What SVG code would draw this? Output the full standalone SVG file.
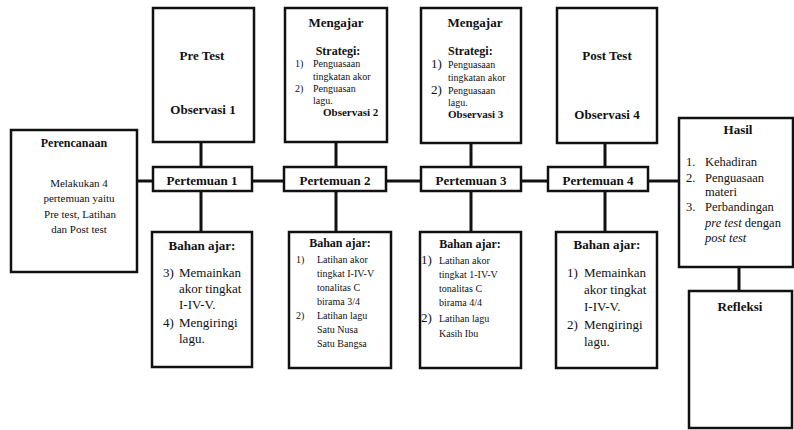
<svg xmlns="http://www.w3.org/2000/svg" width="794" height="430" viewBox="0 0 794 430">
<style>
.box{fill:#fff;stroke:#111;stroke-width:2.5}
.conn{stroke:#111;stroke-width:3;fill:none}
text{font-family:"Liberation Serif","Times New Roman",serif;fill:#111}
.b{font-weight:bold}
.c{text-anchor:middle}
.h13{font-size:13px}
.h12{font-size:12px}
.t11{font-size:11px}
.t10{font-size:10px}
.t13{font-size:13px}
.t12{font-size:12.5px}
.i{font-style:italic}
</style>
<rect width="794" height="430" fill="#fff"/>
<g id="connectors">
<line class="conn" x1="137" y1="181" x2="153" y2="181"/>
<line class="conn" x1="252" y1="181" x2="284" y2="181"/>
<line class="conn" x1="386" y1="181" x2="421" y2="181"/>
<line class="conn" x1="521" y1="181" x2="548" y2="181"/>
<line class="conn" x1="648" y1="181" x2="679" y2="181"/>
<line class="conn" x1="201" y1="142" x2="201" y2="167"/>
<line class="conn" x1="201" y1="191" x2="201" y2="232"/>
<line class="conn" x1="336" y1="142" x2="336" y2="167"/>
<line class="conn" x1="336" y1="191" x2="336" y2="232"/>
<line class="conn" x1="471" y1="143" x2="471" y2="167"/>
<line class="conn" x1="471" y1="191" x2="471" y2="232"/>
<line class="conn" x1="605" y1="143" x2="605" y2="167"/>
<line class="conn" x1="605" y1="191" x2="605" y2="232"/>
<line class="conn" x1="739" y1="267" x2="739" y2="291"/>
</g>
<g id="perencanaan">
<rect class="box" x="11" y="130" width="126" height="142"/>
<text class="b h12 c" x="74" y="147">Perencanaan</text>
<text class="t11 c" x="79" y="187">Melakukan 4</text>
<text class="t11 c" x="79" y="202">pertemuan yaitu</text>
<text class="t11 c" x="80" y="218">Pre test, Latihan</text>
<text class="t11 c" x="79" y="233">dan Post test</text>
</g>
<g id="pretest">
<rect class="box" x="153" y="8" width="101" height="134"/>
<text class="b h13 c" x="202" y="60">Pre Test</text>
<text class="b h13 c" x="203" y="114">Observasi 1</text>
</g>
<g id="mengajar2">
<rect class="box" x="285" y="8" width="102" height="134"/>
<text class="b h13 c" x="336" y="27">Mengajar</text>
<text class="b h12 c" x="338" y="55">Strategi:</text>
<text class="t10" x="295" y="67">1)</text>
<text class="t10" x="313" y="67">Penguasaan</text>
<text class="t10" x="313" y="80">tingkatan akor</text>
<text class="t10" x="295" y="92">2)</text>
<text class="t10" x="313" y="92">Penguasan</text>
<text class="t10" x="313" y="104">lagu.</text>
<text class="b t11" x="323" y="116">Observasi 2</text>
</g>
<g id="mengajar3">
<rect class="box" x="421" y="8" width="100" height="135"/>
<text class="b h13 c" x="475" y="27">Mengajar</text>
<text class="b h12" x="448" y="55">Strategi:</text>
<text class="t13" x="431" y="68">1)</text>
<text class="t10" x="448" y="68">Penguasaan</text>
<text class="t10" x="448" y="81">tingkatan akor</text>
<text class="t13" x="431" y="94">2)</text>
<text class="t10" x="448" y="94">Penguasaan</text>
<text class="t10" x="448" y="106">lagu.</text>
<text class="b t11" x="448" y="118">Observasi 3</text>
</g>
<g id="posttest">
<rect class="box" x="557" y="8" width="100" height="135"/>
<text class="b h13 c" x="607" y="60">Post Test</text>
<text class="b h13 c" x="607" y="119">Observasi 4</text>
</g>
<g id="pertemuan1">
<rect class="box" x="153" y="167" width="99" height="24"/>
<text class="b h13 c" x="202" y="185">Pertemuan 1</text>
</g>
<g id="pertemuan2">
<rect class="box" x="284" y="167" width="102" height="24"/>
<text class="b h13 c" x="335" y="185">Pertemuan 2</text>
</g>
<g id="pertemuan3">
<rect class="box" x="421" y="167" width="100" height="24"/>
<text class="b h13 c" x="471" y="185">Pertemuan 3</text>
</g>
<g id="pertemuan4">
<rect class="box" x="548" y="167" width="100" height="24"/>
<text class="b h13 c" x="598" y="185">Pertemuan 4</text>
</g>
<g id="bahan1">
<rect class="box" x="152" y="232" width="100" height="135"/>
<text class="b h13 c" x="202" y="250">Bahan ajar:</text>
<text class="t13" x="163" y="277">3)</text>
<text class="t13" x="179" y="277">Memainkan</text>
<text class="t13" x="179" y="293">akor tingkat</text>
<text class="t13" x="179" y="309">I-IV-V.</text>
<text class="t13" x="163" y="327">4)</text>
<text class="t13" x="179" y="327">Mengiringi</text>
<text class="t13" x="179" y="343">lagu.</text>
</g>
<g id="bahan2">
<rect class="box" x="289" y="232" width="102" height="136"/>
<text class="b h12 c" x="340" y="247">Bahan ajar:</text>
<text class="t10" x="296" y="263">1)</text>
<text class="t10" x="317" y="263">Latihan akor</text>
<text class="t10" x="317" y="277">tingkat I-IV-V</text>
<text class="t10" x="317" y="291">tonalitas C</text>
<text class="t10" x="317" y="305">birama 3/4</text>
<text class="t10" x="296" y="319">2)</text>
<text class="t10" x="317" y="319">Latihan lagu</text>
<text class="t10" x="317" y="333">Satu Nusa</text>
<text class="t10" x="317" y="347">Satu Bangsa</text>
</g>
<g id="bahan3">
<rect class="box" x="420" y="232" width="101" height="136"/>
<text class="b h12 c" x="470" y="248">Bahan ajar:</text>
<text class="t13" x="421" y="264">1)</text>
<text class="t10" x="439" y="264">Latihan akor</text>
<text class="t10" x="439" y="278">tingkat 1-IV-V</text>
<text class="t10" x="439" y="292">tonalitas C</text>
<text class="t10" x="439" y="306">birama 4/4</text>
<text class="t13" x="421" y="322">2)</text>
<text class="t10" x="439" y="322">Latihan lagu</text>
<text class="t10" x="439" y="337">Kasih Ibu</text>
</g>
<g id="bahan4">
<rect class="box" x="556" y="232" width="101" height="136"/>
<text class="b h13 c" x="607" y="249">Bahan ajar:</text>
<text class="t13" x="567" y="277">1)</text>
<text class="t13" x="584" y="277">Memainkan</text>
<text class="t13" x="584" y="294">akor tingkat</text>
<text class="t13" x="584" y="311">I-IV-V.</text>
<text class="t13" x="567" y="329">2)</text>
<text class="t13" x="584" y="329">Mengiringi</text>
<text class="t13" x="584" y="346">lagu.</text>
</g>
<g id="hasil">
<rect class="box" x="679" y="118" width="114" height="149"/>
<text class="b h13 c" x="738" y="134">Hasil</text>
<text class="t12" x="686" y="166">1.</text>
<text class="t12" x="705" y="166">Kehadiran</text>
<text class="t12" x="686" y="182">2.</text>
<text class="t12" x="705" y="182">Penguasaan</text>
<text class="t12" x="705" y="196">materi</text>
<text class="t12" x="686" y="211">3.</text>
<text class="t12" x="705" y="211">Perbandingan</text>
<text class="t12" x="705" y="227"><tspan class="i">pre test</tspan> dengan</text>
<text class="t12 i" x="705" y="242">post test</text>
</g>
<g id="refleksi">
<rect class="box" x="689" y="291" width="103" height="137"/>
<text class="b h13 c" x="740" y="311">Refleksi</text>
</g>
</svg>
